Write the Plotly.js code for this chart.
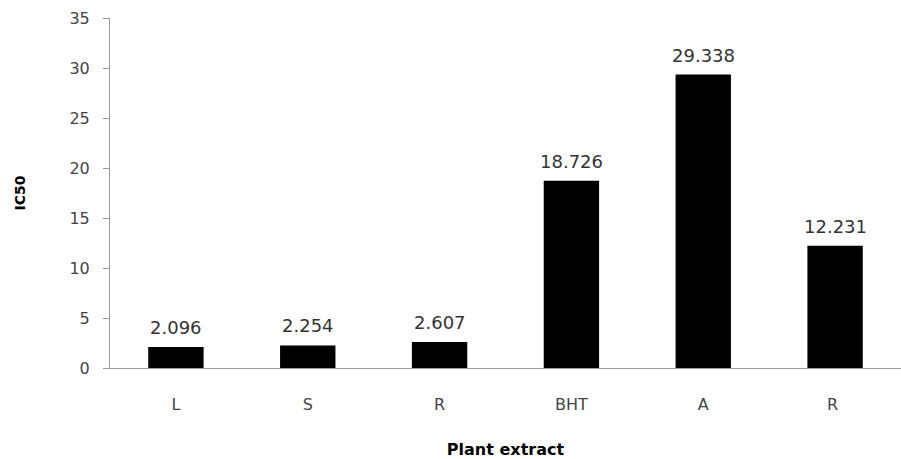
<!DOCTYPE html>
<html>
<head>
<meta charset="utf-8">
<script src="https://cdn.plot.ly/plotly-3.0.1.min.js"></script>
<style>html,body{margin:0;padding:0;background:#fff;}#chart{width:901px;height:459px;}</style>
</head>
<body>
<div id="chart"></div>
<script>
var categories = ["L", "S", "R", "BHT", "A", "R "];
var ic50 = [2.096, 2.254, 2.607, 18.726, 29.338, 12.231];
var labels = ["2.096", "2.254", "2.607", "18.726", "29.338", "12.231"];
var yTicks = [0, 5, 10, 15, 20, 25, 30, 35];

var trace = {
  type: "bar",
  x: categories,
  y: ic50,
  marker: {color: "#000000", line: {width: 0}},
  hoverinfo: "none"
};

var annotations = categories.map(function (c, i) {
  return {
    x: c,
    y: ic50[i],
    xref: "x",
    yref: "y",
    text: labels[i],
    showarrow: false,
    yanchor: "bottom",
    yshift: 7,
    font: {family: "DejaVu Sans", size: 18, color: "#333333"}
  };
});

var layout = {
  width: 901,
  height: 459,
  margin: {l: 110, r: 0, t: 18, b: 91},
  paper_bgcolor: "#ffffff",
  plot_bgcolor: "#ffffff",
  bargap: 0.58,
  showlegend: false,
  annotations: annotations,
  xaxis: {
    type: "category",
    showline: true,
    linecolor: "#9a9a9a",
    linewidth: 1,
    ticks: "",
    showgrid: false,
    zeroline: false,
    tickfont: {family: "DejaVu Sans", size: 16, color: "#444444"},
    ticklabelstandoff: 22,
    title: {text: "<b>Plant extract</b>", font: {family: "DejaVu Sans", size: 16, color: "#000000"}, standoff: 34}
  },
  yaxis: {
    range: [0, 35],
    tickvals: yTicks,
    ticktext: yTicks.map(String),
    showline: true,
    linecolor: "#9a9a9a",
    linewidth: 1,
    ticks: "outside",
    ticklen: 6,
    tickcolor: "#9a9a9a",
    showgrid: false,
    zeroline: false,
    tickfont: {family: "DejaVu Sans", size: 16, color: "#444444"},
    ticklabelstandoff: 10,
    title: {text: "<b>IC50</b>", font: {family: "DejaVu Sans", size: 14, color: "#000000"}, standoff: 40}
  }
};

Plotly.newPlot("chart", [trace], layout, {displayModeBar: false, staticPlot: true});
</script>
</body>
</html>
